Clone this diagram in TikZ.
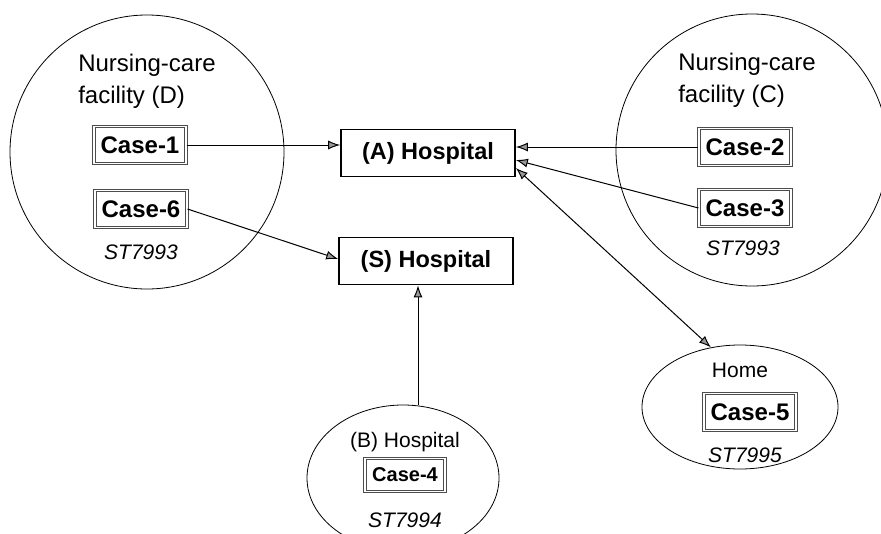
\documentclass[tikz,border=0pt]{standalone}
\usepackage{fontspec}
\setmainfont{Liberation Sans}
\usetikzlibrary{shapes,arrows.meta}

\begin{document}
\begin{tikzpicture}
[x=1pt,y=-1pt,
  >={Latex[length=12pt,width=9pt,fill=black!40]},
  caseDecorate/.style={draw=black!70,double,double distance=1.6pt,line width=1.1pt,
    minimum width=92pt,minimum height=37pt,inner sep=0pt,font=\fontsize{24}{28}\selectfont\bfseries},
  hospDecorate/.style={draw,line width=1.7pt,minimum width=174pt,minimum height=47pt,
    inner sep=0pt,font=\fontsize{23.5}{28}\selectfont\bfseries},
  areaDecorate/.style={draw,line width=0.8pt,inner sep=0pt},
  placeDecorate/.style={font=\fontsize{24}{32}\selectfont,align=left},
  codeDecorate/.style={font=\fontsize{21}{25}\selectfont\itshape},
  lineDecorate/.style={->,line width=1pt}]
\useasboundingbox (0,0) rectangle (881,533);
%% areas
\node (areaD) at (147,152) [areaDecorate,circle,minimum size=274pt] {};
\node (areaC) at (752,150) [areaDecorate,circle,minimum size=272pt] {};
\node (areaHome) at (740,407) [areaDecorate,ellipse,minimum width=196pt,minimum height=124pt] {};
\node (areaB) at (403,478) [areaDecorate,ellipse,minimum width=192pt,minimum height=146pt] {};
%% place labels
\node (placeD) at (147,81) [placeDecorate] {Nursing-care\\facility (D)};
\node (placeC) at (747,80) [placeDecorate] {Nursing-care\\facility (C)};
\node (placeHome) at (740,370) [placeDecorate,font=\fontsize{21}{25}\selectfont] {Home};
\node (placeB) at (405,442) [placeDecorate,font=\fontsize{21}{25}\selectfont] {(B) Hospital};
\foreach \nodename/\x/\y/\code in {
  codeD/141/252/ST7993, codeC/743/248/ST7993,
  codeHome/745/455/ST7995, codeB/405/520/ST7994}
{
  \node (\nodename) at (\x,\y) [codeDecorate] {\code};
}
%% cases
\foreach \nodename/\x/\y/\num in {
  caseOne/140/145/1, caseTwo/745/147/2, caseThree/745/208/3,
  caseFive/750/412/5, caseSix/141/209/6}
{
  \node (\nodename) at (\x,\y) [caseDecorate] {Case-\num};
}
\node (caseFour) at (405,475) [caseDecorate,minimum width=80pt,minimum height=33pt,
  font=\fontsize{20}{24}\selectfont\bfseries] {Case-4};
%% hospitals
\node (hospA) at (428,153) [hospDecorate] {(A) Hospital\hspace{14pt}};
\node (hospS) at (426,261) [hospDecorate] {(S) Hospital\hspace{14pt}};
%% transmission
\draw[lineDecorate] (caseOne.east) -- (caseOne.east -| hospA.west);
\draw[lineDecorate] (caseTwo.west) -- (caseTwo.west -| hospA.east);
\draw[lineDecorate] (caseThree.west) -- ([yshift=-7pt]hospA.east);
\draw[lineDecorate,<->] ([yshift=-15pt]hospA.east) -- (areaHome.116);
\draw[lineDecorate] (caseSix.east) -- ([yshift=2pt]hospS.west);
\draw[lineDecorate] ([xshift=15pt]areaB.north) -- ([xshift=15pt]areaB.north |- hospS.south);
\end{tikzpicture}
\end{document}
